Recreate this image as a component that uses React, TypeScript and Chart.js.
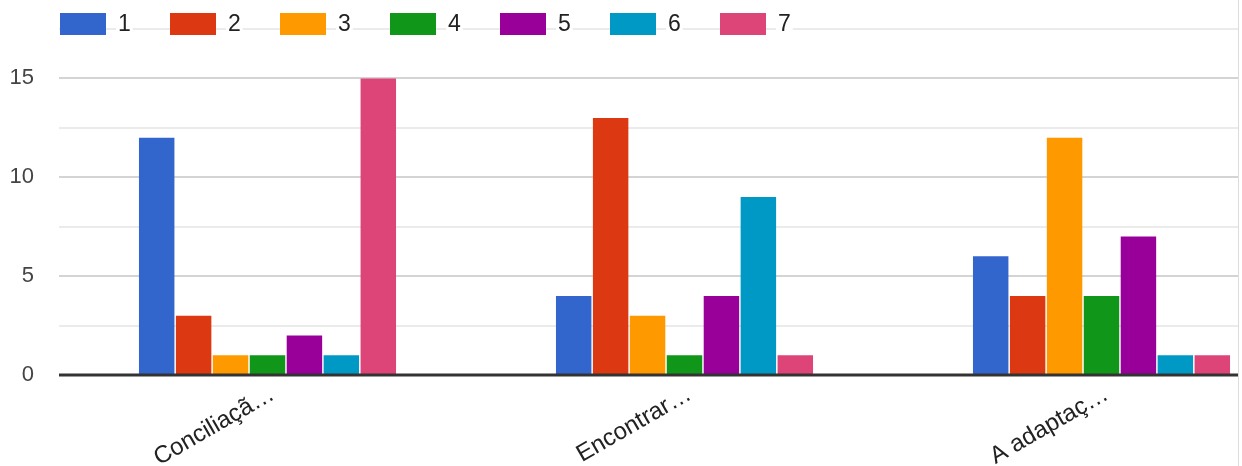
import React, { useEffect, useRef } from "react";
import { Chart, registerables } from "chart.js";

Chart.register(...registerables);

const categories = ["Conciliaçã…", "Encontrar…", "A adaptaç…"];
const seriesLabels = ["1", "2", "3", "4", "5", "6", "7"];
const series1 = [12, 4, 6];
const series2 = [3, 13, 4];
const series3 = [1, 3, 12];
const series4 = [1, 1, 4];
const series5 = [2, 4, 7];
const series6 = [1, 9, 1];
const series7 = [15, 1, 1];
const allSeries = [series1, series2, series3, series4, series5, series6, series7];
const colors = ["#3366cc", "#dc3912", "#ff9900", "#109618", "#990099", "#0099c6", "#dd4477"];
const yMax = 17.5;
const yStep = 2.5;

const FONT = "'Liberation Sans', Arial, sans-serif";

const customLegend = {
  id: "customLegend",
  afterDraw(chart: any) {
    const ctx = chart.ctx;
    ctx.save();
    ctx.font = `23px ${FONT}`;
    ctx.textBaseline = "middle";
    chart.data.datasets.forEach((ds: any, i: number) => {
      const x = 60 + i * 110;
      const y = 13;
      ctx.fillStyle = ds.backgroundColor;
      ctx.fillRect(x, y, 46, 22);
      const tw = ctx.measureText(ds.label).width;
      ctx.fillStyle = "#ffffff";
      ctx.fillRect(x + 56, y - 2, tw + 4, 26);
      ctx.fillStyle = "#222222";
      ctx.fillText(ds.label, x + 58, y + 12);
    });
    ctx.restore();
  },
};

const zeroLine = {
  id: "zeroLine",
  afterDatasetsDraw(chart: any) {
    const ctx = chart.ctx;
    const y = chart.scales.y.getPixelForValue(0);
    ctx.save();
    ctx.strokeStyle = "#333333";
    ctx.lineWidth = 3;
    ctx.beginPath();
    ctx.moveTo(chart.chartArea.left, y);
    ctx.lineTo(chart.chartArea.right, y);
    ctx.stroke();
    ctx.restore();
  },
};

export default function App() {
  const ref = useRef<HTMLCanvasElement | null>(null);
  useEffect(() => {
    if (!ref.current) return;
    const chart = new Chart(ref.current, {
      type: "bar",
      data: {
        labels: categories,
        datasets: allSeries.map((d, i) => ({
          label: seriesLabels[i],
          data: d,
          backgroundColor: colors[i],
          borderWidth: 0,
          barPercentage: 0.96,
          categoryPercentage: 0.62,
        })),
      },
      options: {
        animation: false,
        responsive: false,
        layout: { padding: { top: 29, left: 0, right: 0, bottom: 0 } },
        plugins: { legend: { display: false }, tooltip: { enabled: false } },
        scales: {
          x: {
            grid: { display: false },
            border: { display: false },
            ticks: {
              maxRotation: 30,
              minRotation: 30,
              color: "#222222",
              font: { family: FONT, size: 24 },
              padding: -3,
              labelOffset: 5,
              autoSkip: false,
            },
            afterFit(scale: any) {
              scale.height = 91;
            },
          },
          y: {
            min: 0,
            max: yMax,
            border: { display: false },
            grid: {
              drawTicks: false,
              color: (c: any) => (c.tick.value % 5 === 0 ? "#d4d4d4" : "#ebebeb"),
              lineWidth: 2,
            },
            ticks: {
              stepSize: yStep,
              padding: 25,
              color: "#444444",
              font: { family: FONT, size: 22 },
              callback: (v: any) => (Number(v) % 5 === 0 ? String(v) : ""),
            },
            afterFit(scale: any) {
              scale.width = 59;
              scale.paddingTop = 0;
              scale.paddingBottom = 0;
            },
          },
        },
      },
      plugins: [zeroLine, customLegend],
    });
    return () => chart.destroy();
  }, []);
  return (
    <div
      style={{
        position: "fixed",
        left: 0,
        top: 0,
        width: 1238,
        height: 466,
        overflow: "hidden",
        background: "#fff",
        borderRight: "1px solid #dddddd",
      }}
    >
      <canvas ref={ref} width={1310} height={466} style={{ width: 1310, height: 466, display: "block" }} />
    </div>
  );
}
